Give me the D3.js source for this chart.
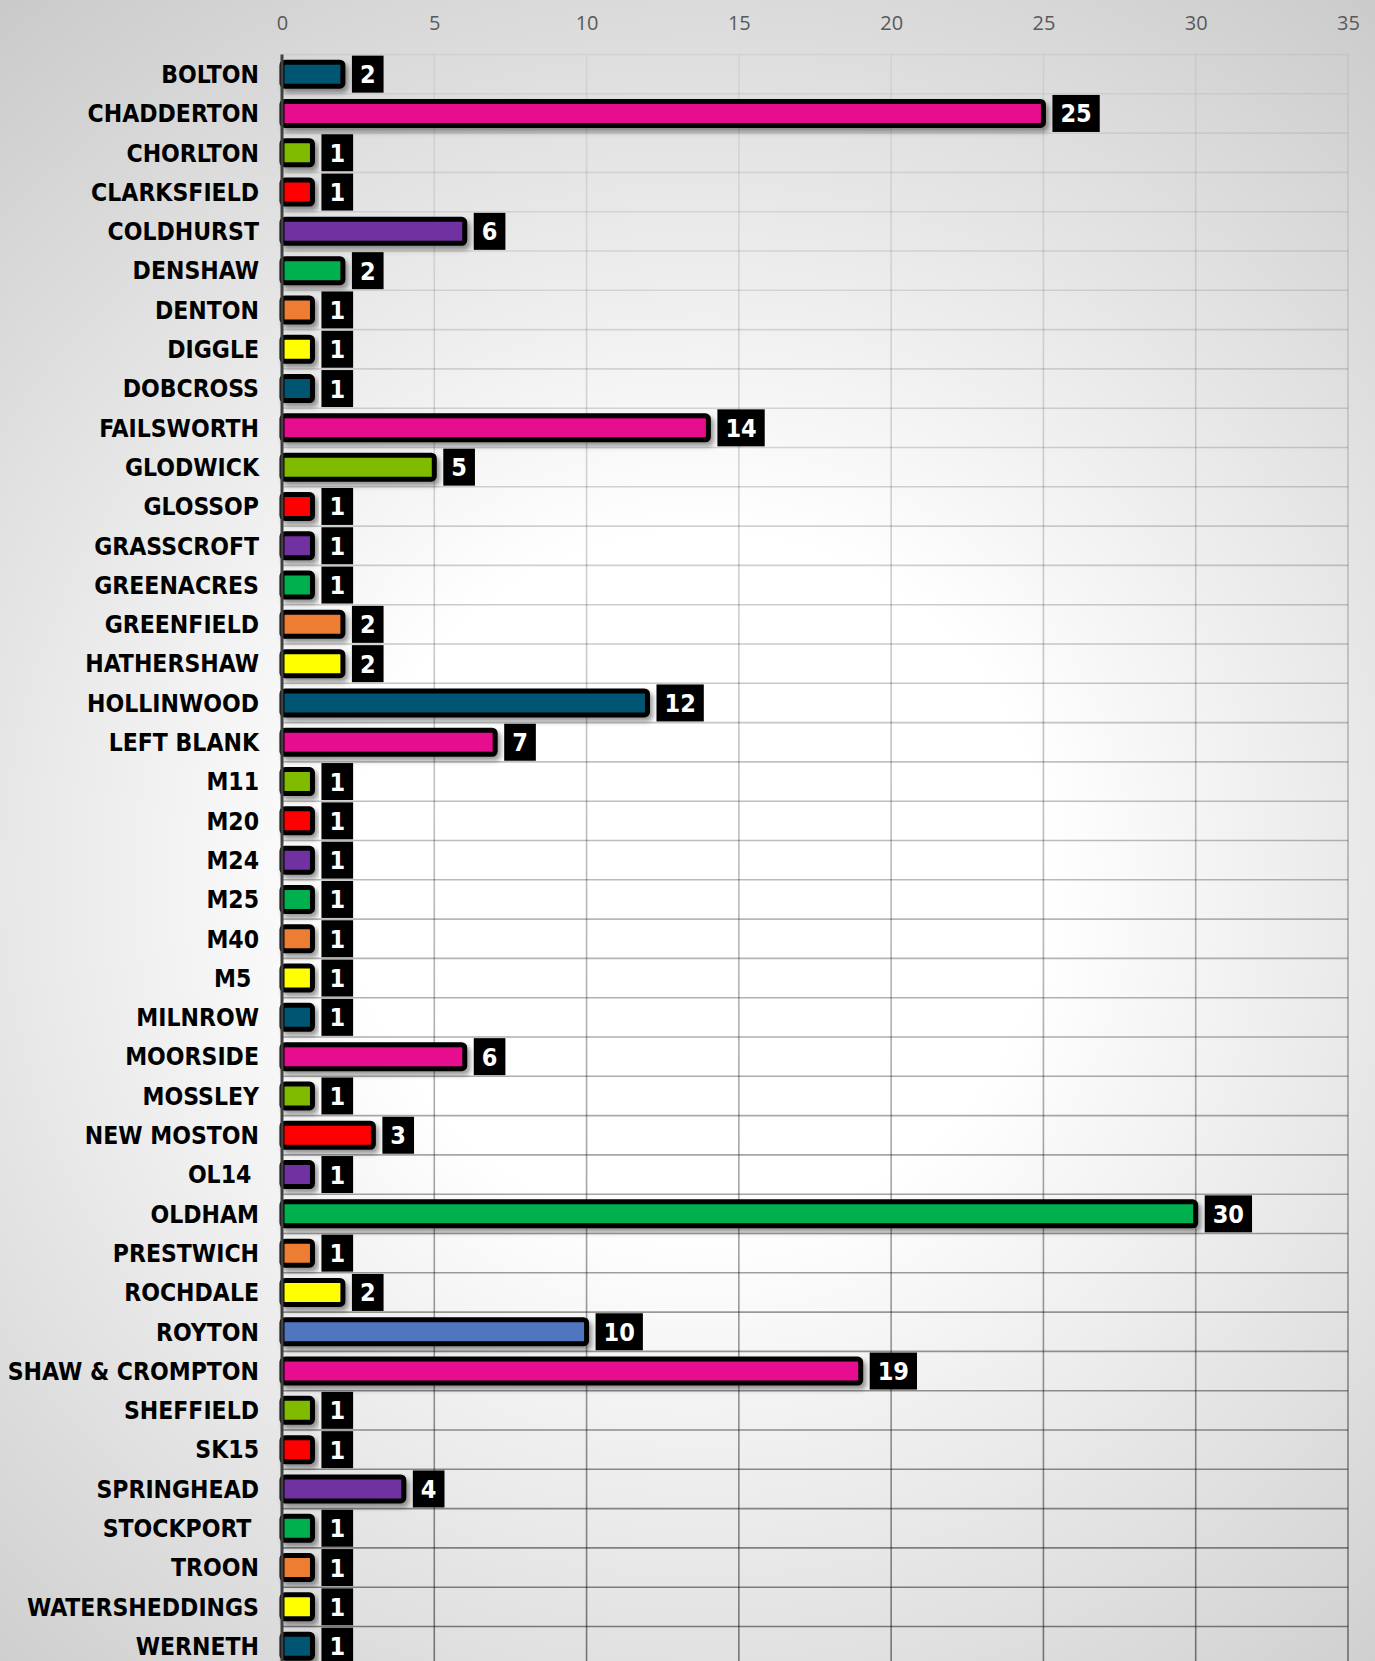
<!DOCTYPE html>
<html>
<head>
<meta charset="utf-8">
<script src="https://cdn.jsdelivr.net/npm/d3@7"></script>
<style>
  html, body { margin: 0; padding: 0; background: #d0d0d0; }
  svg { display: block; }
  .cat { font-family: "DejaVu Sans Condensed", "DejaVu Sans", sans-serif; font-stretch: condensed; font-weight: bold; font-size: 24.5px; fill: #000; white-space: pre; }
  .num { font-family: "DejaVu Sans Condensed", "DejaVu Sans", sans-serif; font-stretch: condensed; font-weight: bold; font-size: 25px; fill: #fff; }
  .tick { font-family: "Open Sans", "Liberation Sans", sans-serif; font-size: 20px; fill: #595959; }
</style>
</head>
<body>
<svg id="chart" width="1375" height="1661"></svg>
<script>
  // data (trailing spaces are in the original labels)
  var categories = ["BOLTON", "CHADDERTON", "CHORLTON", "CLARKSFIELD", "COLDHURST", "DENSHAW",
    "DENTON", "DIGGLE", "DOBCROSS", "FAILSWORTH", "GLODWICK", "GLOSSOP", "GRASSCROFT",
    "GREENACRES", "GREENFIELD", "HATHERSHAW", "HOLLINWOOD", "LEFT BLANK", "M11", "M20",
    "M24", "M25", "M40", "M5 ", "MILNROW", "MOORSIDE", "MOSSLEY", "NEW MOSTON", "OL14 ",
    "OLDHAM", "PRESTWICH", "ROCHDALE", "ROYTON", "SHAW & CROMPTON", "SHEFFIELD", "SK15",
    "SPRINGHEAD", "STOCKPORT ", "TROON", "WATERSHEDDINGS", "WERNETH"];
  var counts = [2, 25, 1, 1, 6, 2, 1, 1, 1, 14, 5, 1, 1, 1, 2, 2, 12, 7, 1, 1,
    1, 1, 1, 1, 1, 6, 1, 3, 1, 30, 1, 2, 10, 19, 1, 1, 4, 1, 1, 1, 1];
  var tickValues = [0, 5, 10, 15, 20, 25, 30, 35];

  // colours repeat every 8 bars, royton is the odd one out
  var palette = ["#005573", "#e6098f", "#80bb00", "#ff0000", "#7030a0", "#00b050", "#ed7d31", "#ffff00"];
  var specialColours = { "ROYTON": "#4f76bf" };

  var svg = d3.select("#chart");
  var W = 1375, H = 1661;
  var plotLeft = 282, plotRight = 1348, plotTop = 54.5, rowH = 39.3;
  var plotBottom = plotTop + rowH * categories.length;

  var x = d3.scaleLinear().domain([0, 35]).range([plotLeft, plotRight]);
  var y = d3.scaleBand()
            .domain(categories)
            .range([plotTop, plotBottom])
            .paddingInner(0.39)
            .paddingOuter(0.195);

  var defs = svg.append("defs");

  var bg = defs.append("radialGradient")
      .attr("id", "bg")
      .attr("gradientUnits", "userSpaceOnUse")
      .attr("cx", 700).attr("cy", 880).attr("r", 1150);
  bg.append("stop").attr("offset", 0).attr("stop-color", "#ffffff");
  bg.append("stop").attr("offset", 0.3).attr("stop-color", "#ffffff");
  bg.append("stop").attr("offset", 0.58).attr("stop-color", "#e9e9e9");
  bg.append("stop").attr("offset", 1).attr("stop-color", "#c8c8c8");

  // grid gets darker toward the bottom
  var gridGrad = defs.append("linearGradient")
      .attr("id", "gridGrad")
      .attr("gradientUnits", "userSpaceOnUse")
      .attr("x1", 0).attr("y1", plotTop).attr("x2", 0).attr("y2", H);
  gridGrad.append("stop").attr("offset", 0).attr("stop-color", "#000").attr("stop-opacity", 0.05);
  gridGrad.append("stop").attr("offset", 1).attr("stop-color", "#000").attr("stop-opacity", 0.48);

  var shadow = defs.append("filter")
      .attr("id", "shadow")
      .attr("x", "-10%").attr("y", "-30%").attr("width", "130%").attr("height", "180%");
  shadow.append("feDropShadow")
      .attr("dx", 3).attr("dy", 4).attr("stdDeviation", 2.5)
      .attr("flood-color", "#000").attr("flood-opacity", 0.4);

  svg.append("rect").attr("width", W).attr("height", H).attr("fill", "url(#bg)");

  // gridlines
  var grid = svg.append("g").attr("stroke", "url(#gridGrad)").attr("stroke-width", 1.6);
  grid.selectAll(".v").data(tickValues.slice(1)).enter().append("line")
      .attr("x1", function(d) { return x(d); })
      .attr("x2", function(d) { return x(d); })
      .attr("y1", plotTop).attr("y2", plotBottom);
  var rowEdges = categories.map(function(c) { return y(c) - y.step() * y.paddingInner() / 2; });
  rowEdges.push(plotBottom);
  grid.selectAll(".h").data(rowEdges).enter().append("line")
      .attr("x1", plotLeft).attr("x2", plotRight)
      .attr("y1", function(d) { return d; })
      .attr("y2", function(d) { return d; });

  // x axis along the top, labels only
  var xAxis = d3.axisTop(x).tickValues(tickValues).tickSize(0).tickPadding(0);
  var ax = svg.append("g").attr("transform", "translate(0,30)").call(xAxis);
  ax.select(".domain").remove();
  ax.selectAll("text").attr("class", "tick").attr("font-family", null).attr("font-size", null).attr("fill", null);
  ax.attr("font-family", null).attr("font-size", null);

  // category labels
  svg.append("g").selectAll("text").data(categories).enter().append("text")
      .attr("class", "cat")
      .attr("x", 259)
      .attr("y", function(d) { return y(d) + y.bandwidth() / 2; })
      .attr("dy", "0.36em")
      .attr("text-anchor", "end")
      .text(function(d) { return d; });

  function barColour(c, i) {
    return specialColours[c] || palette[i % palette.length];
  }

  // bars
  svg.append("g").selectAll("rect").data(categories).enter().append("rect")
      .attr("x", x(0))
      .attr("y", function(d) { return y(d); })
      .attr("width", function(d, i) { return x(counts[i]) - x(0); })
      .attr("height", y.bandwidth())
      .attr("rx", 3)
      .attr("fill", function(d, i) { return barColour(d, i); })
      .attr("stroke", "#000")
      .attr("stroke-width", 5)
      .attr("filter", "url(#shadow)");

  // axis line
  svg.append("line")
      .attr("x1", plotLeft).attr("x2", plotLeft)
      .attr("y1", plotTop).attr("y2", plotBottom)
      .attr("stroke", "#404040").attr("stroke-width", 3);

  // value labels in black boxes
  var lab = svg.append("g").selectAll("g").data(categories).enter().append("g")
      .attr("transform", function(d, i) {
        return "translate(" + (x(counts[i]) + 9) + "," + (y(d) + y.bandwidth() / 2) + ")";
      });
  lab.append("rect").attr("y", -18.5).attr("height", 37).attr("fill", "#000");
  var nums = lab.append("text")
      .attr("class", "num")
      .attr("dy", "0.36em")
      .attr("text-anchor", "middle")
      .text(function(d, i) { return counts[i]; });
  nums.each(function() {
    var w = this.getComputedTextLength() + 16;
    d3.select(this).attr("x", w / 2);
    d3.select(this.parentNode).select("rect").attr("width", w);
  });
</script>
</body>
</html>
